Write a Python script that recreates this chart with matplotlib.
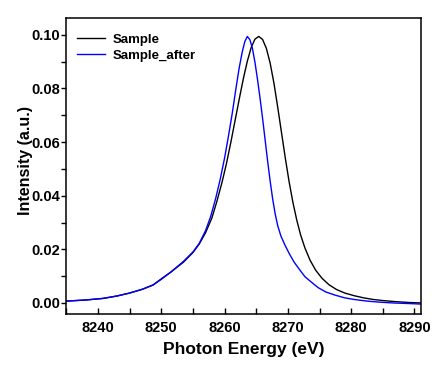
import matplotlib
matplotlib.use("Agg")
import matplotlib.pyplot as plt
from matplotlib.ticker import MultipleLocator, FormatStrFormatter

energy_sample = [8235.0, 8238.0, 8240.8, 8243.0, 8245.0, 8247.0, 8248.7, 8250.0, 8251.5, 8253.5,
                 8255.0, 8256.0, 8257.0, 8258.0, 8258.8, 8259.6, 8260.3, 8261.0, 8261.7, 8262.4,
                 8263.0, 8263.6, 8264.2, 8264.8, 8265.4, 8266.0, 8266.6, 8267.2, 8267.8, 8268.4,
                 8269.0, 8269.6, 8270.2, 8270.8, 8271.4, 8272.0, 8272.7, 8273.5, 8274.4, 8275.4,
                 8276.5, 8277.7, 8279.0, 8280.5, 8282.0, 8283.5, 8285.0, 8287.0, 8289.0, 8291.0]
intensity_sample = [0.0007, 0.0011, 0.0017, 0.0026, 0.0037, 0.0051, 0.0067, 0.0090, 0.0115, 0.0152,
                    0.0188, 0.0220, 0.0262, 0.0317, 0.0380, 0.0450, 0.0520, 0.0600, 0.0685, 0.0770,
                    0.0840, 0.0902, 0.0952, 0.0984, 0.0994, 0.0983, 0.0950, 0.0895, 0.0820, 0.0730,
                    0.0635, 0.0540, 0.0452, 0.0375, 0.0310, 0.0255, 0.0205, 0.0160, 0.0122, 0.0092,
                    0.0068, 0.0050, 0.0037, 0.0027, 0.0019, 0.0013, 0.0009, 0.0005, 0.0002, 0.0000]

energy_after = [8235.0, 8238.0, 8240.8, 8243.0, 8245.0, 8247.0, 8248.7, 8250.0, 8251.5, 8253.5,
                8255.0, 8256.0, 8257.0, 8257.8, 8258.6, 8259.3, 8260.0, 8260.6, 8261.2, 8261.8,
                8262.3, 8262.8, 8263.2, 8263.6, 8264.0, 8264.4, 8264.8, 8265.2, 8265.6, 8266.0,
                8266.4, 8266.8, 8267.2, 8267.6, 8268.0, 8268.4, 8268.9, 8269.5, 8270.2, 8271.0,
                8271.8, 8272.7, 8273.7, 8274.8, 8276.0, 8277.5, 8279.0, 8280.5, 8282.5, 8284.5,
                8286.7, 8289.0, 8291.0]
intensity_after = [0.0007, 0.0011, 0.0017, 0.0026, 0.0037, 0.0051, 0.0067, 0.0088, 0.0115, 0.0155,
                   0.0190, 0.0222, 0.0270, 0.0322, 0.0390, 0.0460, 0.0540, 0.0620, 0.0705, 0.0800,
                   0.0875, 0.0937, 0.0975, 0.0994, 0.0982, 0.0950, 0.0898, 0.0835, 0.0765, 0.0690,
                   0.0610, 0.0530, 0.0455, 0.0388, 0.0332, 0.0288, 0.0250, 0.0218, 0.0185, 0.0152,
                   0.0126, 0.0098, 0.0078, 0.0057, 0.0041, 0.0029, 0.0019, 0.0013, 0.0007, 0.0003,
                   0.0000, -0.0002, -0.0004]

series_labels = ["Sample", "Sample_after"]
x_label = "Photon Energy (eV)"
y_label = "Intensity (a.u.)"

plt.rcParams['font.family'] = ['Liberation Sans', 'DejaVu Sans']
plt.rcParams['font.weight'] = 'bold'

fig = plt.figure(figsize=(4.45, 3.72), dpi=100)
ax = fig.add_axes([0.149, 0.156, 0.798, 0.795])

ax.plot(energy_sample, intensity_sample, color='black', lw=1.0, label=series_labels[0])
ax.plot(energy_after, intensity_after, color='#0000ff', lw=1.0, label=series_labels[1])

ax.set_xlim(8235, 8291.1)
ax.set_ylim(-0.0041, 0.1062)

ax.xaxis.set_major_locator(MultipleLocator(10))
ax.xaxis.set_minor_locator(MultipleLocator(5))
ax.yaxis.set_major_locator(MultipleLocator(0.02))
ax.yaxis.set_minor_locator(MultipleLocator(0.01))
ax.yaxis.set_major_formatter(FormatStrFormatter('%.2f'))

ax.tick_params(axis='x', which='both', direction='in', length=4, width=1.0, pad=5,
               labelsize=10.5, top=False)
ax.tick_params(axis='y', which='both', direction='out', length=3.5, width=1.0, pad=1,
               labelsize=10.5, right=False)
for lab in ax.get_xticklabels() + ax.get_yticklabels():
    lab.set_fontweight('bold')

for sp in ax.spines.values():
    sp.set_linewidth(1.1)

ax.set_xlabel(x_label, fontsize=12.5, fontweight='bold', labelpad=5)
ax.set_ylabel(y_label, fontsize=11.5, fontweight='bold')
ax.yaxis.set_label_coords(-0.094, 0.52)

leg = ax.legend(loc='upper left', bbox_to_anchor=(0.0, 0.983), frameon=False,
                prop={'size': 9.5, 'weight': 'bold'}, handlelength=2.1,
                handletextpad=0.6, labelspacing=0.25, borderaxespad=0.4,
                borderpad=0.4)

fig.savefig("out.png", dpi=100)
